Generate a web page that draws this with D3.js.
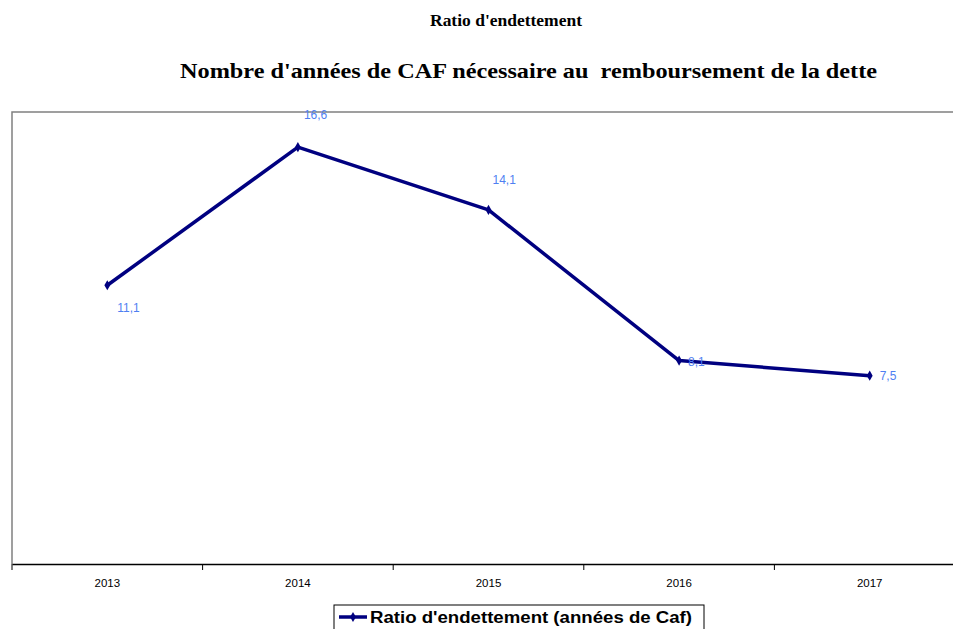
<!DOCTYPE html>
<html>
<head>
<meta charset="utf-8">
<script src="https://cdnjs.cloudflare.com/ajax/libs/d3/7.8.5/d3.min.js"></script>
<style>
  body { margin: 0; background: #fff; }
  svg { display: block; }
  .title { font-family: "Liberation Serif", "Times New Roman", serif; font-weight: bold; fill: #000; }
  .tick text { font-family: "Liberation Sans", Arial, sans-serif; font-size: 11.5px; fill: #000; }
  .lbl { font-family: "Liberation Sans", Arial, sans-serif; font-size: 12px; fill: #4f7ff2; }
</style>
</head>
<body>
<div id="chart"></div>
<script>
var years = ["2013", "2014", "2015", "2016", "2017"];
var ratio = [11.1, 16.6, 14.1, 8.1, 7.5];
var labels = ["11,1", "16,6", "14,1", "8,1", "7,5"];

var width = 953, height = 629;
var plot = { left: 12, top: 112, right: 965, bottom: 564 };

var svg = d3.select("#chart").append("svg")
  .attr("width", width)
  .attr("height", height);

// titles (the original text is a bit stretched sideways)
svg.append("text")
  .attr("class", "title")
  .attr("x", 430).attr("y", 26)
  .attr("textLength", 152)
  .attr("lengthAdjust", "spacingAndGlyphs")
  .style("font-size", "16px")
  .text("Ratio d'endettement");

svg.append("text")
  .attr("class", "title")
  .attr("x", 180).attr("y", 78)
  .attr("textLength", 697)
  .attr("lengthAdjust", "spacingAndGlyphs")
  .style("font-size", "21.5px")
  .style("white-space", "pre")
  .text("Nombre d'années de CAF nécessaire au  remboursement de la dette");

var x = d3.scaleBand()
  .domain(years)
  .range([plot.left, plot.right]);

var y = d3.scaleLinear()
  .domain([0, 18])
  .range([plot.bottom, plot.top]);

// plot frame (left + top, gray)
svg.append("path")
  .attr("d", "M" + plot.left + "," + plot.bottom + "V" + plot.top + "H" + width)
  .attr("fill", "none")
  .attr("stroke", "#808080")
  .attr("stroke-width", 1.5);

var xAxis = svg.append("g")
  .attr("transform", "translate(0," + plot.bottom + ")")
  .call(d3.axisBottom(x).tickSize(0).tickPadding(15));
xAxis.select(".domain").attr("stroke", "#000").attr("stroke-width", 1.5);

// tick marks between categories
svg.append("g").selectAll("line")
  .data(years)
  .enter().append("line")
    .attr("x1", function(d) { return x(d); })
    .attr("x2", function(d) { return x(d); })
    .attr("y1", plot.bottom)
    .attr("y2", plot.bottom + 6)
    .attr("stroke", "#000");

var cx = function(d, i) { return x(years[i]) + x.bandwidth() / 2; };

var line = d3.line()
  .x(function(d, i) { return cx(d, i); })
  .y(function(d) { return y(d); });

svg.append("path")
  .datum(ratio)
  .attr("d", line)
  .attr("fill", "none")
  .attr("stroke", "#000080")
  .attr("stroke-width", 3.5)
  .attr("stroke-linejoin", "round");

svg.selectAll(".marker")
  .data(ratio)
  .enter().append("path")
    .attr("class", "marker")
    .attr("d", d3.symbol().type(d3.symbolDiamond).size(30))
    .attr("transform", function(d, i) { return "translate(" + cx(d, i) + "," + y(d) + ")"; })
    .attr("fill", "#000080");

var offsets = [[10, 27], [6, -28], [4, -26], [9, 5], [10, 4]];

svg.selectAll(".lbl")
  .data(ratio)
  .enter().append("text")
    .attr("class", "lbl")
    .attr("x", function(d, i) { return cx(d, i) + offsets[i][0]; })
    .attr("y", function(d, i) { return y(d) + offsets[i][1]; })
    .text(function(d, i) { return labels[i]; });

// legend
var legend = svg.append("g").attr("transform", "translate(334,605)");
legend.append("rect")
  .attr("width", 370).attr("height", 30)
  .attr("fill", "#fff").attr("stroke", "#000").attr("stroke-width", 1);
legend.append("line")
  .attr("x1", 5).attr("x2", 33).attr("y1", 12).attr("y2", 12)
  .attr("stroke", "#000080").attr("stroke-width", 3.5);
legend.append("path")
  .attr("d", d3.symbol().type(d3.symbolDiamond).size(30))
  .attr("transform", "translate(19,12)")
  .attr("fill", "#000080");
legend.append("text")
  .attr("x", 36).attr("y", 18)
  .attr("textLength", 322)
  .attr("lengthAdjust", "spacingAndGlyphs")
  .style("font-family", "'Liberation Sans', Arial, sans-serif")
  .style("font-weight", "bold")
  .style("font-size", "16px")
  .text("Ratio d'endettement (années de Caf)");
</script>
</body>
</html>
